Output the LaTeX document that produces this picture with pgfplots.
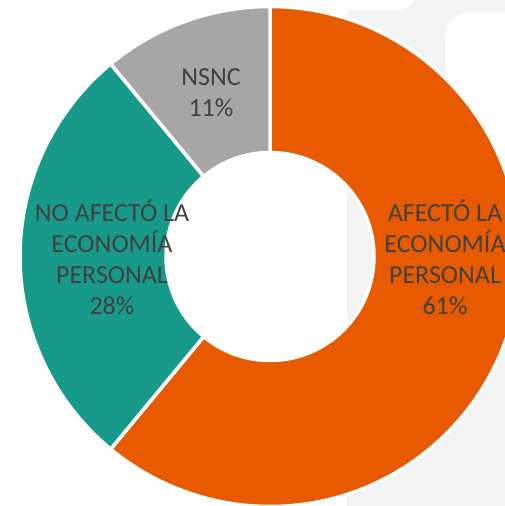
\documentclass[border=0pt]{standalone}
\usepackage{pgfplots}
\pgfplotsset{compat=1.18}
\usepackage{pgfplotstable}
\usepackage{fontspec}
\setmainfont{Carlito}
\definecolor{cOrange}{HTML}{E85A00}
\definecolor{cTeal}{HTML}{189A8A}
\definecolor{cGray}{HTML}{A6A6A6}
\definecolor{cTxt}{HTML}{404040}
\definecolor{cBg}{HTML}{F3F3F3}

\pgfplotstableread{
label value
afecto 61
noafecto 28
nsnc 11
}\shares

\begin{document}
\begin{tikzpicture}
\pgfplotstablegetelem{0}{value}\of\shares \pgfmathsetmacro\va{\pgfplotsretval}
\pgfplotstablegetelem{1}{value}\of\shares \pgfmathsetmacro\vb{\pgfplotsretval}
\pgfplotstablegetelem{2}{value}\of\shares \pgfmathsetmacro\vc{\pgfplotsretval}
\pgfmathsetmacro\aA{90}
\pgfmathsetmacro\aB{90-3.6*\va}
\pgfmathsetmacro\aC{\aB-3.6*\vb}
\pgfmathsetmacro\aD{\aC-3.6*\vc}
\begin{axis}[name=ax,width=505pt,height=506pt,scale only axis,
  xmin=0,xmax=505,ymin=0,ymax=506,hide axis,clip=true]
% light background shapes
\fill[cBg] (axis cs:347,0) rectangle (axis cs:505,506);
\fill[white, rounded corners=15pt] (axis cs:240,496) rectangle (axis cs:415,560);
\fill[white, rounded corners=25pt] (axis cs:445,300) rectangle (axis cs:580,494);
% donut slices
\filldraw[fill=cOrange, draw=white, line width=3.5pt]
  (axis cs:270,249.5) ++(\aA:250pt) arc[start angle=\aA, end angle=\aB, radius=250pt]
  -- ++(\aB:-146pt) arc[start angle=\aB, end angle=\aA, radius=104pt] -- cycle;
\filldraw[fill=cTeal, draw=white, line width=3.5pt]
  (axis cs:270,249.5) ++(\aB:250pt) arc[start angle=\aB, end angle=\aC, radius=250pt]
  -- ++(\aC:-146pt) arc[start angle=\aC, end angle=\aB, radius=104pt] -- cycle;
\filldraw[fill=cGray, draw=white, line width=3.5pt]
  (axis cs:270,249.5) ++(\aC:250pt) arc[start angle=\aC, end angle=\aD, radius=250pt]
  -- ++(\aD:-146pt) arc[start angle=\aD, end angle=\aC, radius=104pt] -- cycle;
% labels
\node[align=center, text=cTxt, font=\fontsize{26}{31}\selectfont] at (axis cs:211,413.5) {NSNC\\11\%};
\node[align=center, text=cTxt, font=\fontsize{26}{31}\selectfont] at (axis cs:445,248.5) {AFECTÓ LA\\ECONOMÍA\\PERSONAL\\61\%};
\node[align=center, text=cTxt, font=\fontsize{26}{31}\selectfont] at (axis cs:112,249) {NO AFECTÓ LA\\ECONOMÍA\\PERSONAL\\28\%};
\end{axis}
\pgfresetboundingbox
\useasboundingbox (ax.south west) rectangle (ax.north east);
\end{tikzpicture}
\end{document}
